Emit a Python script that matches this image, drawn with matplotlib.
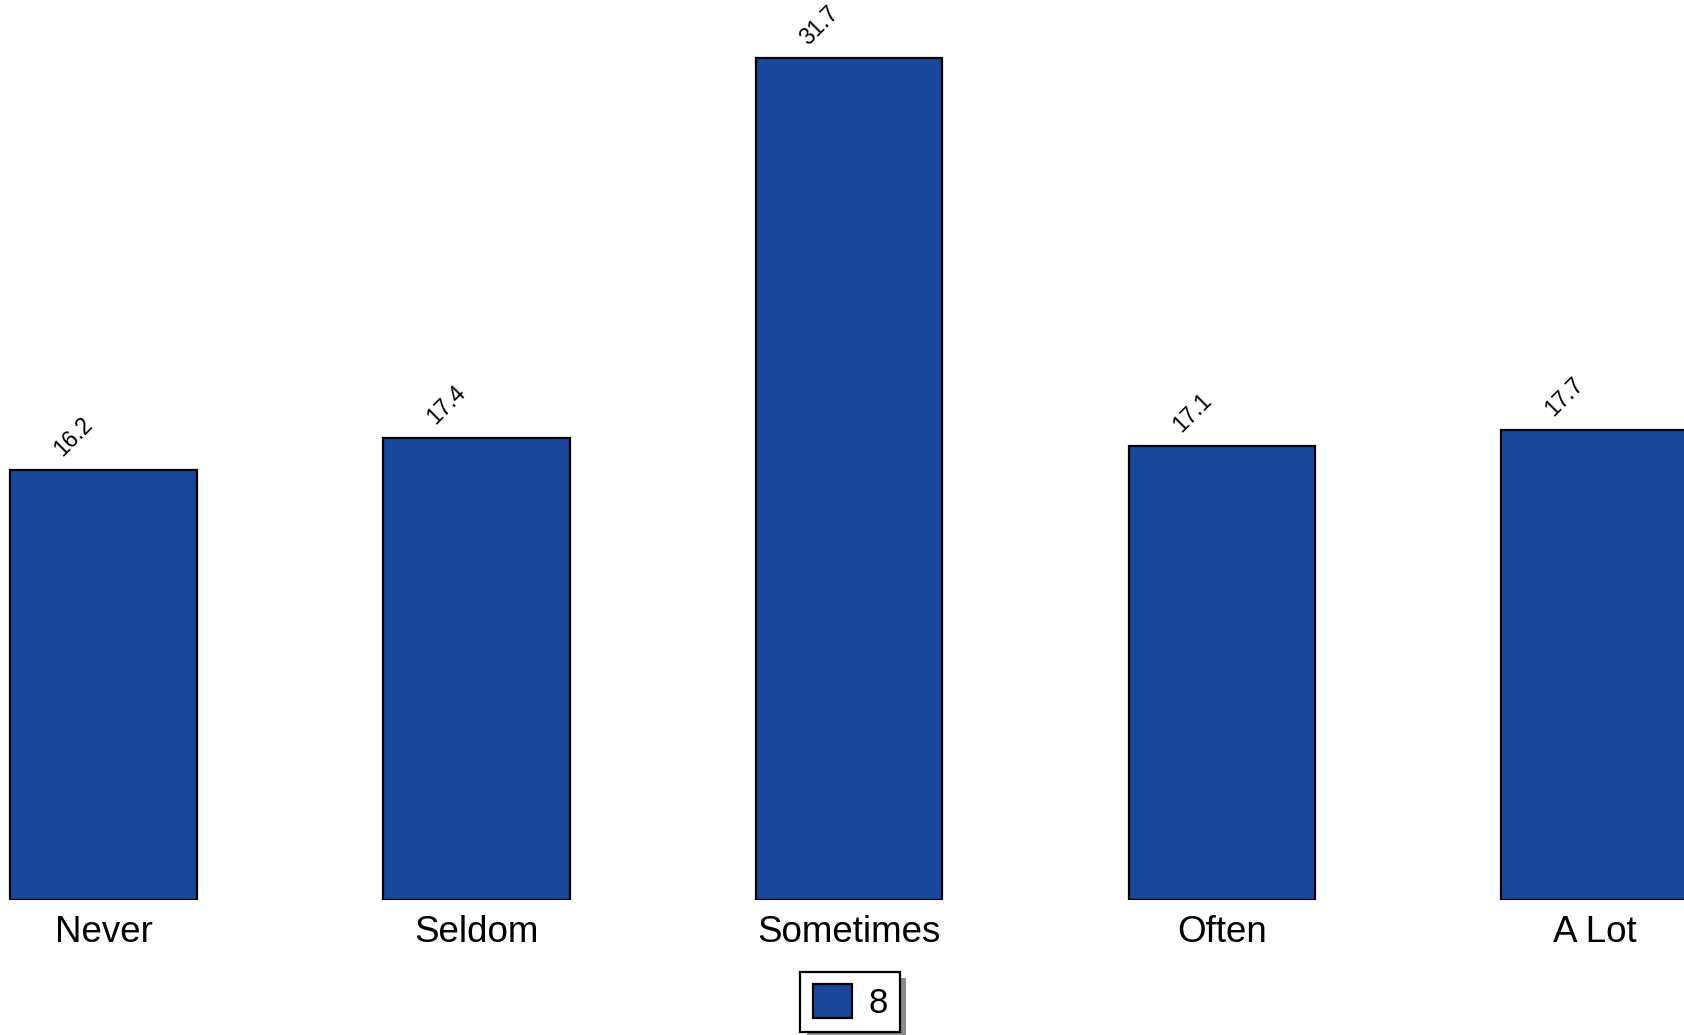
import matplotlib
matplotlib.use("Agg")
import matplotlib.pyplot as plt
import matplotlib.patheffects as pe
import numpy as np

plt.rcParams['font.family'] = ['Liberation Sans', 'DejaVu Sans']

# data
categories = ["Never", "Seldom", "Sometimes", "Often", "A Lot"]
values = [16.2, 17.4, 31.7, 17.1, 17.7]
series_name = "8"
bar_color = "#19479b"

fig = plt.figure(figsize=(16.84, 10.35), dpi=100)
ax = fig.add_axes([0, 0.1305, 1, 0.8695])

x = np.arange(len(categories))
bars = ax.bar(x, values, width=0.5, color=bar_color, edgecolor="black",
              linewidth=1.6, label=series_name)

# rotated value labels above each bar
for xi, v in zip(x, values):
    ax.text(xi - 0.08, v + 0.35, f"{v:.1f}", rotation=45, ha="center",
            va="bottom", fontsize=16.5)

ax.set_xlim(-0.278, 4.24)
ax.set_ylim(0, 33.9)
ax.set_xticks(x)
ax.set_xticklabels(categories, fontsize=26.5)
ax.tick_params(axis="x", length=0, pad=11)
ax.set_yticks([])
for s in ax.spines.values():
    s.set_visible(False)

leg = fig.legend(loc="center", bbox_to_anchor=(850 / 1684, 1 - 1002 / 1035),
                 fontsize=25, fancybox=False, edgecolor="black",
                 shadow=False, framealpha=1,
                 handlelength=1.15, handleheight=1.15, handletextpad=0.45,
                 borderpad=0.35, borderaxespad=0)
frame = leg.get_frame()
frame.set_linewidth(1.6)
frame.set_path_effects([pe.SimplePatchShadow(offset=(4.5, -4.5),
                                             shadow_rgbFace="#8a8a8a", alpha=1),
                        pe.Normal()])

fig.savefig("out.png", dpi=100)
